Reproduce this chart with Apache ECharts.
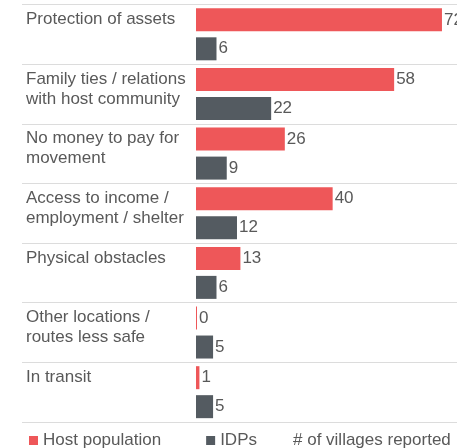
<!DOCTYPE html>
<html>
<head>
<meta charset="utf-8">
<script src="https://cdn.jsdelivr.net/npm/echarts@6/dist/echarts.min.js"></script>
<style>html,body{margin:0;padding:0;background:#fff}#c{width:457px;height:448px}</style>
</head>
<body>
<div id="c"></div>
<script>
const categories = [
  'Protection of assets',
  'Family ties / relations\nwith host community',
  'No money to pay for\nmovement',
  'Access to income /\nemployment / shelter',
  'Physical obstacles',
  'Other locations /\nroutes less safe',
  'In transit'
];
const hostPopulation = [72, 58, 26, 40, 13, 0, 1];
const idps = [6, 22, 9, 12, 6, 5, 5];
const seriesNames = ['Host population', 'IDPs'];
const noteText = '# of villages reported';

const FONT = '"Liberation Sans", Arial, sans-serif';
const TXT = '#595959';
const FS = 17;
const chart = echarts.init(document.getElementById('c'), null, {renderer: 'canvas'});
chart.setOption({
  animation: false,
  textStyle: {fontFamily: FONT},
  grid: [
    {left: 196, top: 4.5, height: 417.5, right: 0, containLabel: false},
    {left: 22, top: 4.5, height: 417.5, right: 0, containLabel: false}
  ],
  xAxis: [
    {gridIndex: 0, type: 'value', min: 0, max: 76.4, show: false},
    {gridIndex: 1, type: 'value', min: 0, max: 1, show: false}
  ],
  yAxis: [
    {
      gridIndex: 0, type: 'category', data: categories, inverse: true,
      axisLine: {show: false}, axisTick: {show: false}, splitLine: {show: false},
      axisLabel: {
        align: 'left', verticalAlign: 'top', margin: 170,
        fontSize: FS, lineHeight: 20, color: TXT, fontFamily: FONT,
        padding: [-25, 0, 0, 0]
      }
    },
    {
      gridIndex: 1, type: 'category', data: categories, inverse: true,
      axisLine: {show: false}, axisTick: {show: false}, axisLabel: {show: false},
      splitLine: {show: true, lineStyle: {color: '#dcdcdc', width: 1}}
    }
  ],
  legend: {
    data: seriesNames, left: 29, top: 432, padding: 0,
    icon: 'rect', itemWidth: 9, itemHeight: 9, itemGap: 45,
    textStyle: {fontSize: FS, color: TXT, fontFamily: FONT}
  },
  title: {
    text: noteText, left: 293, top: 432, padding: 0,
    textStyle: {fontSize: FS, color: TXT, fontWeight: 'normal', fontFamily: FONT}
  },
  series: [
    {
      name: seriesNames[0], type: 'bar', xAxisIndex: 0, yAxisIndex: 0,
      data: hostPopulation, barWidth: 23, barGap: '26%', barMinHeight: 1,
      itemStyle: {color: '#ee5759'},
      label: {show: true, position: 'right', distance: 2, fontSize: FS, color: TXT, fontFamily: FONT}
    },
    {
      name: seriesNames[1], type: 'bar', xAxisIndex: 0, yAxisIndex: 0,
      data: idps, barWidth: 23, barGap: '26%',
      itemStyle: {color: '#545b61'},
      label: {show: true, position: 'right', distance: 2, fontSize: FS, color: TXT, fontFamily: FONT}
    }
  ]
});
</script>
</body>
</html>
